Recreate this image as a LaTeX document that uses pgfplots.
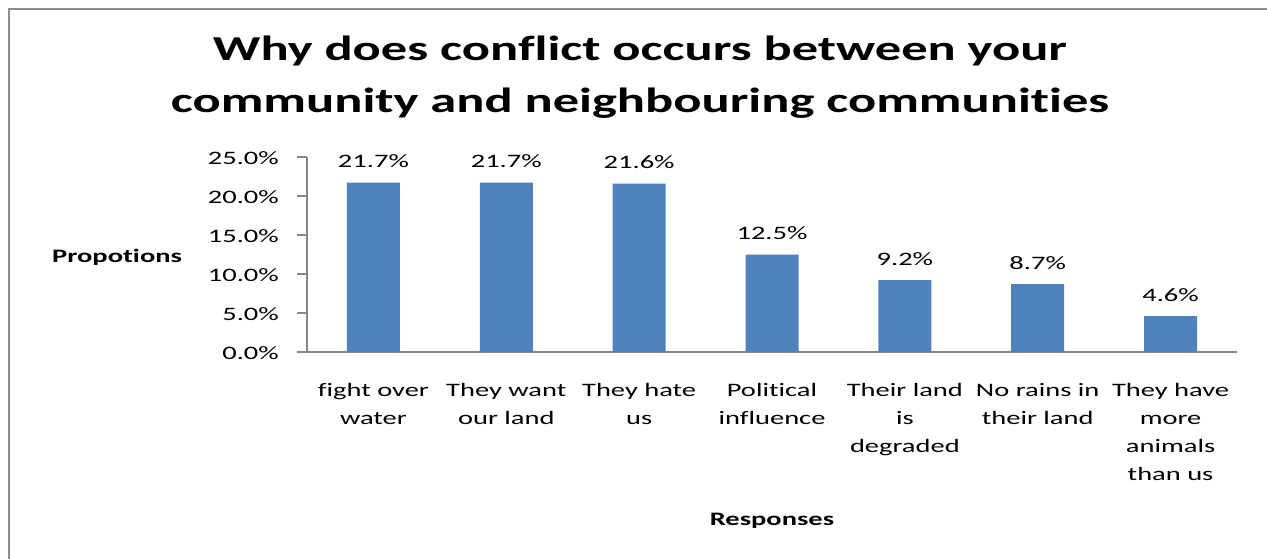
\documentclass[border=0pt]{standalone}
\usepackage{fontspec}
\setmainfont{Carlito}[FakeStretch=1.5, Ligatures={NoCommon,NoContextual}]
\usepackage{pgfplots}
\pgfplotsset{compat=1.18}
\definecolor{barblue}{HTML}{4F81BD}
\definecolor{axisgray}{HTML}{868686}
\definecolor{framegray}{HTML}{8C8C8C}
\begin{document}
\begin{tikzpicture}
\useasboundingbox (0pt,0pt) rectangle (1267pt,558pt);
\fill[white] (0pt,0pt) rectangle (1267pt,558pt);
\begin{scope}
\clip (0pt,0pt) rectangle (1267pt,558pt);
\draw[line width=2.2pt, framegray] (9pt,-10pt) -- (9pt,549pt) -- (1290pt,549pt);
\end{scope}
\node[anchor=base, inner sep=0pt, font=\fontsize{35}{42}\selectfont\bfseries] at (640pt,497pt) {Why does conflict occurs between your};
\node[anchor=base, inner sep=0pt, font=\fontsize{35}{42}\selectfont\bfseries] at (640pt,445pt) {community and neighbouring communities};
\begin{axis}[
  at={(307pt,206pt)}, anchor=south west, scale only axis,
  width=930pt, height=195pt,
  xmin=-0.5, xmax=6.5, ymin=0, ymax=25,
  axis x line=bottom, axis y line=left,
  axis line style={-, axisgray, line width=1.2pt},
  ybar, bar width=53pt,
  xtick={0,1,2,3,4,5,6},
  xticklabels={{fight over\\water},{They want\\our land},{They hate\\us},{Political\\influence},{Their land\\is\\degraded},{No rains in\\their land},{They have\\more\\animals\\than us}},
  xticklabel style={align=center, anchor=north, inner sep=0pt, yshift=-21pt, font=\fontsize{19}{28}\selectfont},
  x tick style={draw=none},
  ytick={0,5,10,15,20,25},
  yticklabels={0.0\%,5.0\%,10.0\%,15.0\%,20.0\%,25.0\%},
  yticklabel style={anchor=east, inner sep=0pt, xshift=-18pt, yshift=-1.5pt, font=\fontsize{19}{23}\selectfont},
  y tick style={axisgray, line width=1.2pt},
  tick align=outside, major tick length=10pt,
  /pgf/number format/assume math mode=true,
  nodes near coords={\pgfmathprintnumber[fixed,fixed zerofill,precision=1]{\pgfplotspointmeta}\%},
  every node near coord/.append style={anchor=base, yshift=15pt, inner sep=0pt, font=\fontsize{19}{23}\selectfont, black},
  xlabel={Responses}, ylabel={Propotions},
  every axis x label/.style={at={(axis description cs:0.5,-0.892)}, anchor=base, inner sep=0pt, font=\fontsize{19}{23}\selectfont\bfseries},
  every axis y label/.style={at={(axis description cs:-0.2742,0.4615)}, anchor=base west, inner sep=0pt, font=\fontsize{19}{23}\selectfont\bfseries},
  clip=false,
]
\addplot[fill=barblue, draw=none] coordinates {(0,21.7) (1,21.7) (2,21.6) (3,12.5) (4,9.2) (5,8.7) (6,4.6)};
\end{axis}
\end{tikzpicture}
\end{document}
